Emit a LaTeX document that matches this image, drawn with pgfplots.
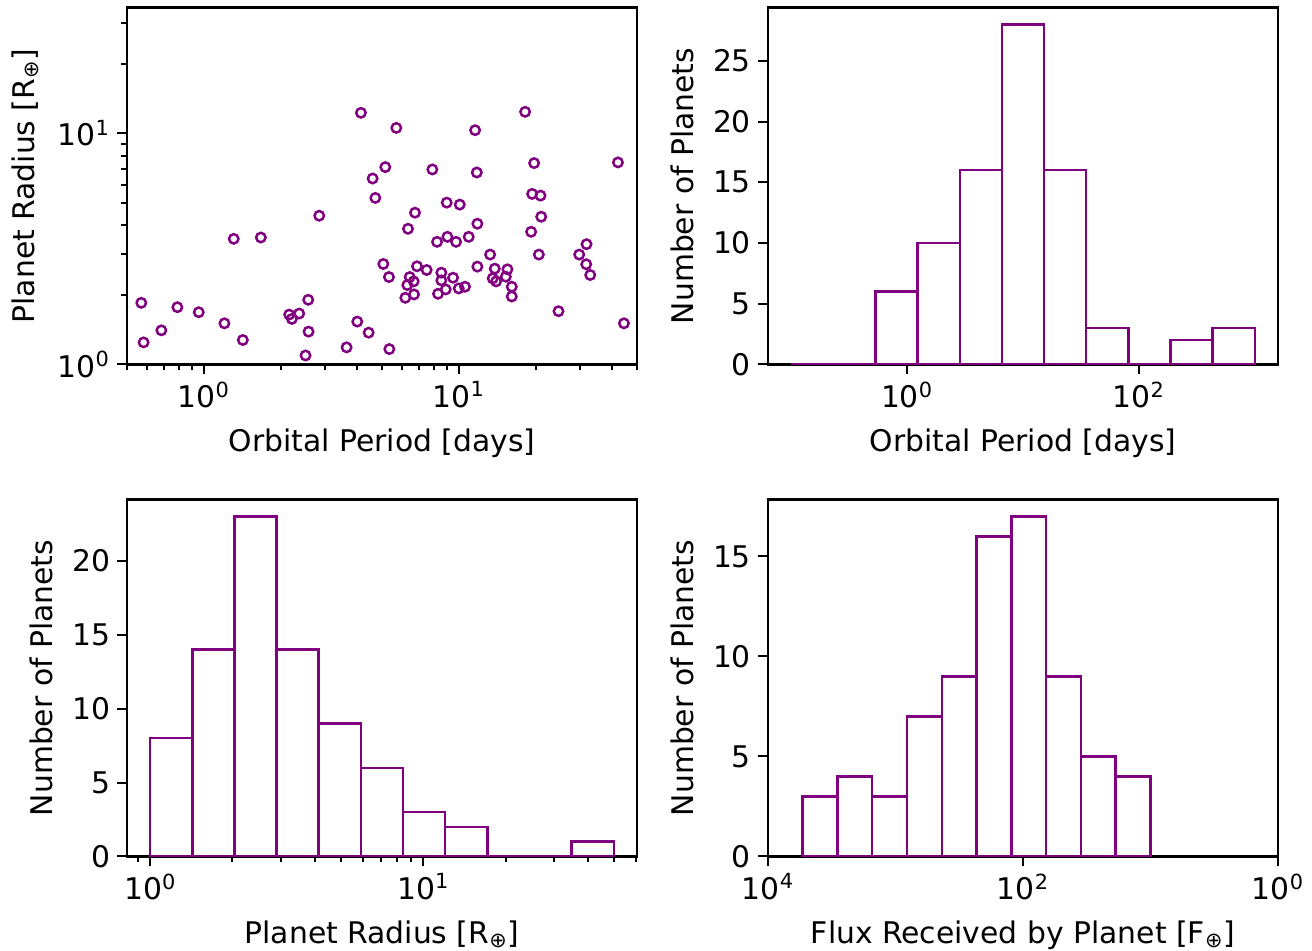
\documentclass[border=0pt]{standalone}
\usepackage{fontspec}
\setmainfont{DejaVu Sans}
\usepackage{pgfplots}
\usepackage{pgfplotstable}
\pgfplotsset{compat=1.18}

\definecolor{planetpurple}{HTML}{800080}
\newcommand{\dec}[1]{10\textsuperscript{#1}}
\newcommand{\figfont}{\fontsize{14.9}{18}\selectfont}

% period [days], radius [R_earth]
\pgfplotstableread{
period radius
0.569 1.848
0.581 1.246
0.682 1.405
0.788 1.769
0.956 1.683
1.205 1.507
1.311 3.495
1.423 1.276
1.674 3.542
2.163 1.644
2.216 1.575
2.367 1.661
2.568 1.905
2.576 1.387
2.507 1.094
2.837 4.400
3.632 1.186
3.999 1.533
4.134 12.26
4.432 1.373
4.595 6.373
4.708 5.252
5.060 2.721
5.152 7.139
5.325 2.389
5.342 1.166
5.690 10.55
6.172 1.943
6.284 2.206
6.323 3.864
6.419 2.389
6.656 2.288
6.676 2.009
6.737 4.534
6.860 2.659
7.484 2.563
7.878 6.975
8.218 3.392
8.292 2.022
8.545 2.495
8.545 2.311
8.889 2.112
8.971 5.012
9.025 3.565
9.497 2.373
9.759 3.392
9.998 2.133
10.09 4.914
10.58 2.169
10.94 3.565
11.59 10.31
11.77 6.767
11.83 4.062
11.83 2.650
13.27 2.988
13.59 2.357
13.84 2.597
14.01 2.288
15.29 2.397
15.52 2.580
16.14 2.169
16.14 1.969
18.21 12.38
19.22 3.749
19.40 5.467
19.75 7.430
20.61 2.988
20.92 5.376
21.05 4.356
24.61 1.700
29.67 2.988
31.61 2.713
31.70 3.313
32.77 2.438
42.09 7.480
44.44 1.507
}\scatterdata

% histogram bins: left edge, count (last row closes the final bin)
\pgfplotstableread{
edge count
0.1 0
0.23101 0
0.53367 6
1.23285 10
2.84804 16
6.57933 28
15.1991 16
35.1119 3
81.1131 0
187.382 2
432.876 3
1000 0
}\periodhist

\pgfplotstableread{
edge count
1.0 8
1.4264 14
2.0346 23
2.9022 14
4.1397 9
5.9049 6
8.4227 3
12.0141 2
17.1369 0
24.4441 0
34.8672 1
49.8 0
}\radiushist

\pgfplotstableread{
edge count
10 4
18.74 5
35.13 9
65.83 17
123.4 16
231.3 9
433.5 7
812.5 3
1522.8 4
2854.0 3
5349 0
}\fluxhist

\pgfplotsset{
  panel/.style={
    scale only axis,
    width=255pt, height=178.5pt,
    anchor=south west,
    axis line style={line width=1.2pt},
    tick pos=left, tick align=outside,
    major tick length=5pt, minor tick length=3pt,
    every tick/.style={black, line width=1pt},
    /pgf/number format/assume math mode=true,
    tick label style={font=\figfont},
    label style={font=\figfont},
    xlabel style={yshift=-3.5pt},
    ylabel style={yshift=2.5pt},
  },
  hist/.style={ybar interval, draw=planetpurple, fill=white, line width=1.25pt},
}

\begin{document}
\begin{tikzpicture}[font=\figfont]
\useasboundingbox (0,0) rectangle (656pt,475.5pt);

% radius against period
\begin{axis}[panel, at={(63.5pt,293.25pt)},
  xmode=log, ymode=log,
  xmin=0.5, xmax=50, ymin=1, ymax=35,
  xtick={1,10}, xticklabels={\dec{0},\dec{1}},
  ytick={1,10}, yticklabels={\dec{0},\dec{1}},
  minor xtick={0.5,0.6,0.7,0.8,0.9,2,3,4,5,6,7,8,9,20,30,40,50},
  minor ytick={2,3,4,5,6,7,8,9,20,30},
  xlabel={Orbital Period [days]},
  ylabel={Planet Radius [R\textsubscript{⊕}]}]
\addplot[only marks, mark=o, mark size=2.35pt, planetpurple, line width=1.25pt]
  table[x=period, y=radius]{\scatterdata};
\end{axis}

% period histogram
\begin{axis}[panel, at={(384pt,293.25pt)},
  xmode=log, xmin=0.0631, xmax=1585, ymin=0, ymax=29.4,
  xtick={1,100}, xticklabels={\dec{0},\dec{2}}, minor xtick={},
  ytick={0,5,10,15,20,25},
  xlabel={Orbital Period [days]},
  ylabel={Number of Planets}]
\addplot[hist] table[x=edge, y=count]{\periodhist};
\end{axis}

% radius histogram
\begin{axis}[panel, at={(63.5pt,47.25pt)},
  xmode=log, xmin=0.8225, xmax=60.54, ymin=0, ymax=24.15,
  xtick={1,10}, xticklabels={\dec{0},\dec{1}},
  minor xtick={0.9,2,3,4,5,6,7,8,9,20,30,40,50,60},
  ytick={0,5,10,15,20},
  xlabel={Planet Radius [R\textsubscript{⊕}]},
  ylabel={Number of Planets}]
\addplot[hist] table[x=edge, y=count]{\radiushist};
\end{axis}

% flux histogram
\begin{axis}[panel, at={(384pt,47.25pt)},
  xmode=log, x dir=reverse, xmin=1, xmax=10000, ymin=0, ymax=17.85,
  xtick={1,100,10000}, xticklabels={\dec{0},\dec{2},\dec{4}}, minor xtick={},
  ytick={0,5,10,15},
  xlabel={Flux Received by Planet [F\textsubscript{⊕}]},
  ylabel={Number of Planets}]
\addplot[hist] table[x=edge, y=count]{\fluxhist};
\end{axis}
\end{tikzpicture}
\end{document}
